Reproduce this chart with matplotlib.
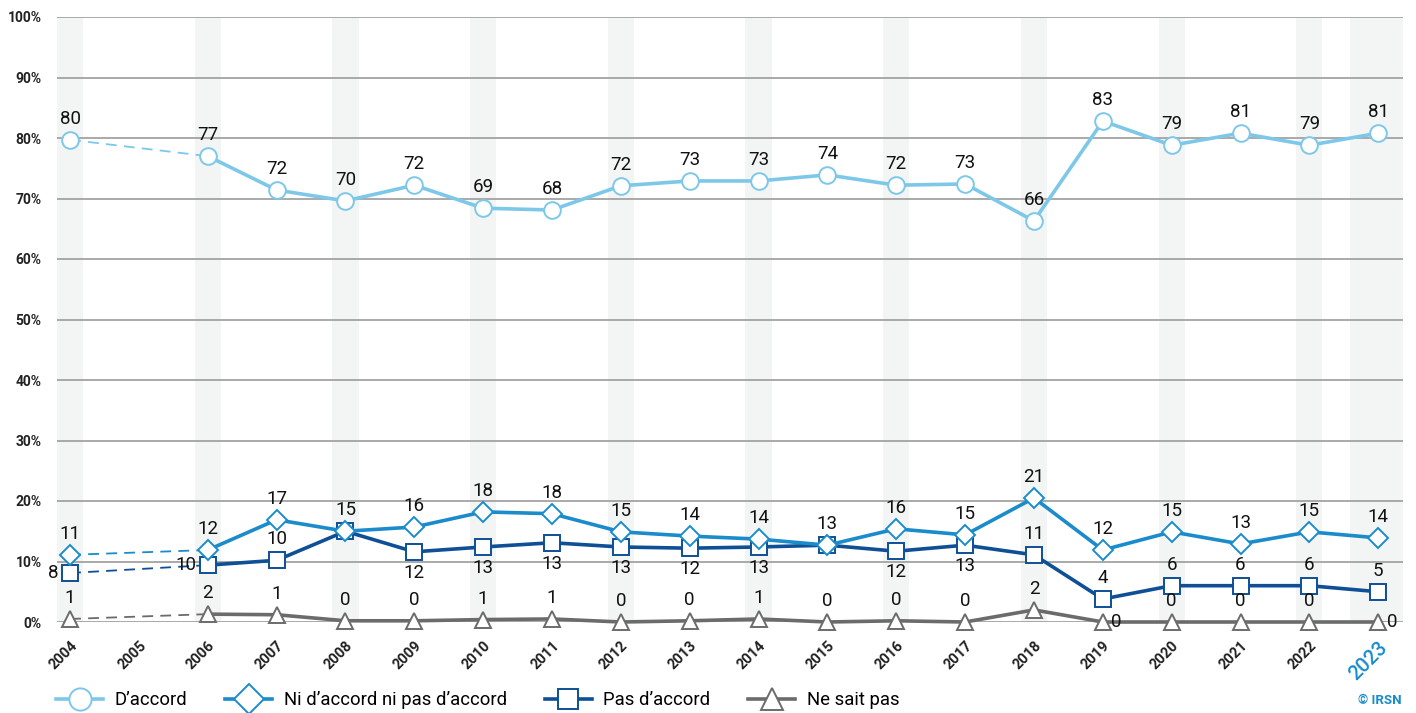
import matplotlib
matplotlib.use("Agg")
import matplotlib.pyplot as plt
from matplotlib.lines import Line2D

plt.rcParams['font.family'] = ['Roboto', 'DejaVu Sans']

# ---- data ----
tick_years = list(range(2004, 2024))
years = [2004, 2006, 2007, 2008, 2009, 2010, 2011, 2012, 2013, 2014,
         2015, 2016, 2017, 2018, 2019, 2020, 2021, 2022, 2023]

d_accord = [79.7, 77.0, 71.4, 69.6, 72.2, 68.4, 68.1, 72.1, 72.9, 72.9,
            73.9, 72.2, 72.4, 66.3, 82.8, 78.8, 80.8, 78.8, 80.8]
ni_accord = [11.1, 11.9, 16.9, 15.0, 15.7, 18.2, 17.9, 14.9, 14.2, 13.7,
             12.7, 15.4, 14.4, 20.5, 11.9, 14.9, 12.9, 14.9, 13.9]
pas_accord = [8.1, 9.4, 10.2, 15.0, 11.6, 12.4, 13.1, 12.4, 12.2, 12.4,
              12.7, 11.7, 12.7, 11.1, 3.8, 6.0, 6.0, 6.0, 5.0]
ne_sait = [0.5, 1.3, 1.2, 0.2, 0.2, 0.4, 0.5, 0.0, 0.2, 0.5,
           0.0, 0.2, 0.0, 2.0, 0.0, 0.0, 0.0, 0.0, 0.0]

lab_d = [80, 77, 72, 70, 72, 69, 68, 72, 73, 73, 74, 72, 73, 66, 83, 79, 81, 79, 81]
lab_ni = [11, 12, 17, 15, 16, 18, 18, 15, 14, 14, 13, 16, 15, 21, 12, 15, 13, 15, 14]
lab_pas = [8, 10, 10, 15, 12, 13, 13, 13, 12, 13, 13, 12, 13, 11, 4, 6, 6, 6, 5]
lab_ne = [1, 2, 1, 0, 0, 1, 1, 0, 0, 1, 0, 0, 0, 2, 0, 0, 0, 0, 0]

# where each label goes relative to its point
pos_d = ['above'] * 19
pos_ni = ['above'] * 19
pos_pas = ['left', 'left', 'above', None, 'below', 'below', 'below', 'below', 'below',
           'below', None, 'below', 'below', 'above', 'above', 'above', 'above', 'above', 'above']
pos_ne = ['above'] * 14 + ['right', 'above', 'above', 'above', 'right']

series = [
    ("D\u2019accord", d_accord, lab_d, pos_d, '#7dc8e8', 'o', 12, 3),
    ("Pas d\u2019accord", pas_accord, lab_pas, pos_pas, '#0e4f96', 's', 11.5, 4),
    ("Ni d\u2019accord ni pas d\u2019accord", ni_accord, lab_ni, pos_ni, '#1a8bcb', 'D', 10, 5),
    ("Ne sait pas", ne_sait, lab_ne, pos_ne, '#6b6b6b', '^', 12, 2),
]

fig = plt.figure(figsize=(14.16, 7.13), dpi=100)
ax = fig.add_axes([57 / 1416, 1 - 622 / 713, (1403 - 57) / 1416, (622 - 17) / 713])

x_lo, x_hi = 2004 - 0.19, 2023 + 0.36
ax.set_xlim(x_lo, x_hi)
ax.set_ylim(0, 100)

# background bands
for yr in range(2004, 2023, 2):
    ax.axvspan(yr - 0.19, yr + 0.19, color='#f3f4f4', zorder=0, lw=0)
ax.axvspan(2023 - 0.41, x_hi, color='#f3f4f4', zorder=0, lw=0)

for v in range(0, 101, 10):
    ax.axhline(v, color='#a3a3a3', lw=1.3, zorder=1)

offsets = {'above': (0, 15, 'center', 'center'),
           'below': (0, -15, 'center', 'center'),
           'left': (-8, 0, 'right', 'center'),
           'right': (6, 0, 'left', 'center')}

for name, vals, labs, pos, col, mk, ms, z in series:
    ax.plot(years[:2], vals[:2], color=col, lw=1.3, ls=(0, (6, 4)), zorder=z, clip_on=False)
    ax.plot(years[1:], vals[1:], color=col, lw=2.6, zorder=z, clip_on=False)
    ax.plot(years, vals, ls='none', marker=mk, ms=ms, mfc='white', mec=col, mew=1.4,
            zorder=z + 0.5, clip_on=False)
    for x, y, t, p in zip(years, vals, labs, pos):
        if p is None:
            continue
        dx, dy, ha, va = offsets[p]
        ax.annotate(str(t), (x, y), xytext=(dx, dy), textcoords='offset points',
                    ha=ha, va=va, fontsize=13.5, color='#111111', zorder=10,
                    annotation_clip=False)

for s in ax.spines.values():
    s.set_visible(False)
ax.tick_params(length=0)

ax.set_yticks(range(0, 101, 10))
ax.set_yticklabels([f"{v}%" for v in range(0, 101, 10)], fontsize=10,
                   fontweight='bold', color='#222222')
ax.tick_params(axis='y', pad=11)

ax.set_xticks(tick_years)
ax.set_xticklabels([str(y) for y in tick_years], rotation=45, ha='right',
                   rotation_mode='anchor', fontsize=10.5, fontweight='bold', color='#222222')
last = ax.get_xticklabels()[-1]
last.set_color('#1a8bcb')
last.set_fontsize(14.5)
last.set_fontweight('medium')
ax.tick_params(axis='x', pad=12)

handles = [
    Line2D([], [], color='#7dc8e8', lw=2.6, marker='o', ms=16, mfc='white', mec='#7dc8e8', mew=1.4),
    Line2D([], [], color='#1a8bcb', lw=2.6, marker='D', ms=15.5, mfc='white', mec='#1a8bcb', mew=1.4),
    Line2D([], [], color='#0e4f96', lw=2.6, marker='s', ms=15, mfc='white', mec='#0e4f96', mew=1.4),
    Line2D([], [], color='#6b6b6b', lw=2.6, marker='^', ms=16, mfc='white', mec='#6b6b6b', mew=1.4),
]
names = ["D\u2019accord", "Ni d\u2019accord ni pas d\u2019accord", "Pas d\u2019accord", "Ne sait pas"]
fig.legend(handles, names, loc='center left', bbox_to_anchor=(56 / 1416, 13 / 713),
           ncol=4, frameon=False, fontsize=13.3, handlelength=2.55, handletextpad=0.62,
           columnspacing=2.05, borderpad=0, borderaxespad=0)

fig.text(1402 / 1416, 13 / 713, "\u00a9 IRSN", ha='right', va='center', fontsize=9.5,
         fontweight='bold', color='#1a8bcb')

fig.savefig("out.png", dpi=100)
